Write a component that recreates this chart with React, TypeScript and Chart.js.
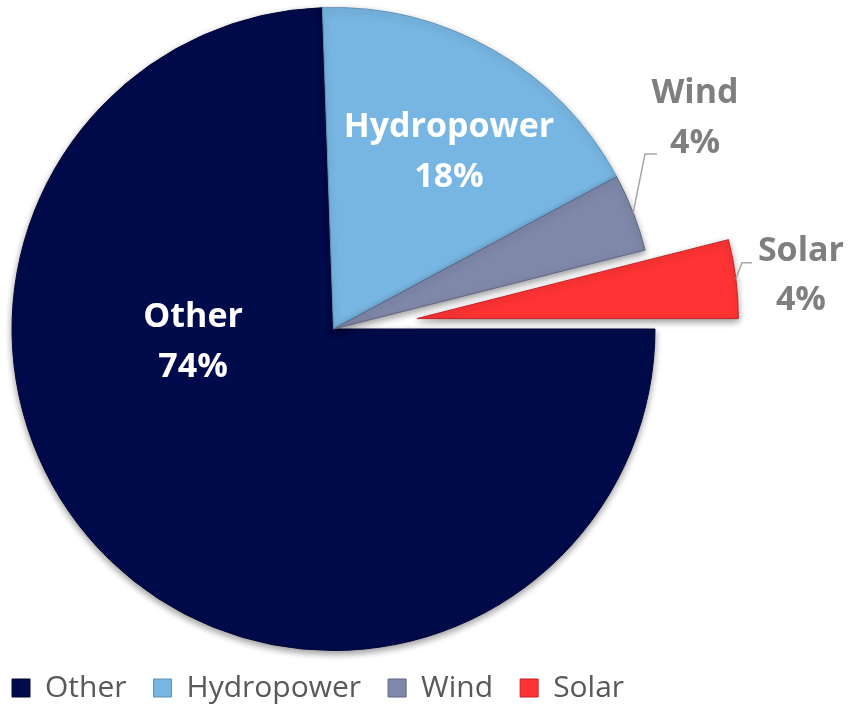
import React, { useEffect, useRef } from 'react';
import { Chart, registerables } from 'chart.js';

Chart.register(...registerables);

// ---- data ----
const categories = ['Other', 'Hydropower', 'Wind', 'Solar'];
const shares = [74.45, 17.7, 3.9, 3.95];
const sliceColors = ['#000b4b', '#77b6e2', '#7f88a9', '#ff3333'];
const sliceBorders = ['#000733', '#5f92b8', '#5d6684', '#c42326'];
const explodeOffsets = [0, 0, 0, 84];

// ---- label styling / placement ----
const labelColors = ['#ffffff', '#ffffff', '#7f7f7f', '#7f7f7f'];
const labelPlacement = [
  { angle: 175.5, dist: 0.438 },
  { angle: -57.2, dist: 0.663 },
  { angle: -30.5, dist: 1.305 },
  { angle: -6.74, dist: 1.203 },
];
const leaders: ({ elbowDx: number; elbowDy: number; endDx: number } | null)[] = [
  null,
  null,
  { elbowDx: -50, elbowDy: 38, endDx: -38 },
  { elbowDx: -59, elbowDy: -10.5, endDx: -49 },
];

const LABEL_FONT = 34;
const LINE_GAP = 49.5;

const pieDecor = {
  id: 'pieDecor',
  afterDatasetUpdate(chart: any, args: any) {
    args.meta.data.forEach((arc: any, i: number) => {
      const d = explodeOffsets[i];
      if (!d) return;
      const mid = (arc.startAngle + arc.endAngle) / 2;
      arc.x += Math.cos(mid) * d;
      arc.y += Math.sin(mid) * d;
    });
  },
  beforeDatasetsDraw(chart: any) {
    const ctx = chart.ctx;
    ctx.save();
    ctx.shadowColor = 'rgba(0,0,0,0.4)';
    ctx.shadowBlur = 7;
    ctx.shadowOffsetX = 0;
    ctx.shadowOffsetY = 3;
  },
  afterDatasetsDraw(chart: any) {
    const ctx = chart.ctx;
    ctx.restore();
    const meta = chart.getDatasetMeta(0);
    const total = shares.reduce((a, b) => a + b, 0);
    meta.data.forEach((arc: any, i: number) => {
      const p = labelPlacement[i];
      const a = (p.angle * Math.PI) / 180;
      const r = arc.outerRadius * p.dist;
      const cx = arc.x + Math.cos(a) * r;
      const cy = arc.y + Math.sin(a) * r;
      const lead = leaders[i];
      ctx.save();
      if (lead) {
        const mid = (arc.startAngle + arc.endAngle) / 2;
        ctx.beginPath();
        ctx.moveTo(arc.x + Math.cos(mid) * arc.outerRadius, arc.y + Math.sin(mid) * arc.outerRadius);
        ctx.lineTo(cx + lead.elbowDx, cy + lead.elbowDy);
        ctx.lineTo(cx + lead.endDx, cy + lead.elbowDy);
        ctx.strokeStyle = '#a6a6a6';
        ctx.lineWidth = 1.5;
        ctx.stroke();
      }
      ctx.font = `bold ${LABEL_FONT}px "Open Sans"`;
      ctx.fillStyle = labelColors[i];
      ctx.textAlign = 'center';
      ctx.textBaseline = 'alphabetic';
      const capHalf = LABEL_FONT * 0.357;
      ctx.fillText(categories[i], cx, cy - LINE_GAP / 2 + capHalf);
      ctx.fillText(Math.round((shares[i] / total) * 100) + '%', cx, cy + LINE_GAP / 2 + capHalf);
      ctx.restore();
    });
  },
};

export default function App() {
  const ref = useRef<HTMLCanvasElement>(null);
  useEffect(() => {
    document.body.style.margin = '0';
    document.body.style.overflow = 'hidden';
    const chart = new Chart(ref.current as HTMLCanvasElement, {
      type: 'pie',
      data: {
        labels: categories,
        datasets: [
          {
            data: shares,
            backgroundColor: sliceColors,
            borderColor: sliceBorders,
            borderWidth: 1,
          } as any,
        ],
      },
      options: {
        animation: false,
        responsive: false,
        devicePixelRatio: 1,
        rotation: 90,
        radius: 321.5,
        layout: { padding: { left: 0, right: 172, top: 12, bottom: 0 } },
        plugins: {
          legend: {
            position: 'bottom',
            align: 'start',
            labels: {
              boxWidth: 18,
              boxHeight: 18,
              padding: 27,
              color: '#595959',
              font: { family: '"Open Sans"', size: 30 },
            },
          },
          tooltip: { enabled: false },
        },
      } as any,
      plugins: [pieDecor],
    });
    return () => chart.destroy();
  }, []);
  return (
    <div style={{ position: 'fixed', left: -15, top: 0, width: 869, height: 713 }}>
      <canvas ref={ref} width={869} height={713} style={{ width: 869, height: 713, display: 'block' }} />
    </div>
  );
}
